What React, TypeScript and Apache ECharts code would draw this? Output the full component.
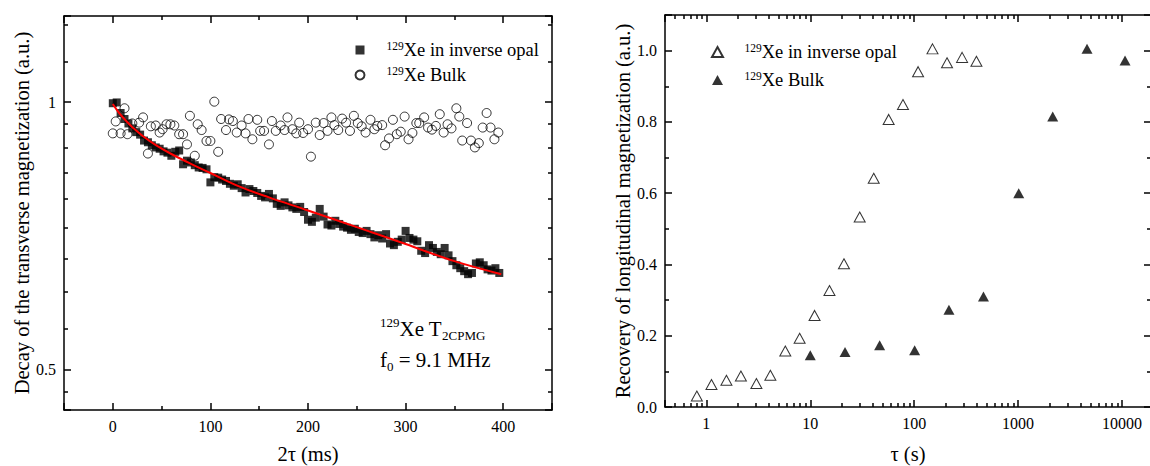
import React, { useEffect, useRef } from "react";
import * as echarts from "echarts";

// ---- Left panel: transverse decay (2τ in ms) ----
const opalT2X = [0, 4, 8, 12, 16, 20, 24, 28, 32, 36, 40, 44, 48, 52, 56, 60, 64, 68, 72, 76, 80, 84, 88, 92, 96, 100, 104, 108, 112, 116, 120, 124, 128, 132, 136, 140, 144, 148, 152, 156, 160, 164, 168, 172, 176, 180, 184, 188, 192, 196, 200, 204, 208, 212, 216, 220, 224, 228, 232, 236, 240, 244, 248, 252, 256, 260, 264, 268, 272, 276, 280, 284, 288, 292, 296, 300, 304, 308, 312, 316, 320, 324, 328, 332, 336, 340, 344, 348, 352, 356, 360, 364, 368, 372, 376, 380, 384, 388, 392, 396];
const opalT2Y = [0.997, 0.999, 0.972, 0.957, 0.946, 0.934, 0.925, 0.919, 0.905, 0.901, 0.894, 0.889, 0.886, 0.880, 0.877, 0.870, 0.879, 0.882, 0.851, 0.859, 0.855, 0.849, 0.844, 0.843, 0.840, 0.812, 0.823, 0.822, 0.818, 0.815, 0.809, 0.805, 0.808, 0.800, 0.791, 0.798, 0.794, 0.790, 0.784, 0.781, 0.788, 0.779, 0.768, 0.764, 0.771, 0.765, 0.761, 0.758, 0.762, 0.752, 0.737, 0.733, 0.741, 0.758, 0.743, 0.728, 0.726, 0.735, 0.729, 0.724, 0.722, 0.718, 0.720, 0.714, 0.712, 0.716, 0.710, 0.704, 0.708, 0.702, 0.710, 0.693, 0.690, 0.696, 0.700, 0.716, 0.703, 0.700, 0.697, 0.680, 0.676, 0.690, 0.685, 0.678, 0.674, 0.685, 0.672, 0.662, 0.655, 0.650, 0.645, 0.640, 0.642, 0.658, 0.660, 0.655, 0.648, 0.646, 0.650, 0.642];

const bulkT2X = [0, 3, 8, 12, 15, 20, 27, 31, 36, 39, 44, 48, 51, 55, 59, 63, 68, 72, 76, 79, 84, 87, 91, 96, 100, 104, 108, 111, 116, 119, 123, 127, 132, 136, 139, 143, 148, 151, 155, 160, 163, 167, 172, 176, 179, 184, 188, 191, 195, 200, 203, 208, 212, 216, 220, 224, 227, 231, 235, 239, 243, 247, 251, 255, 259, 264, 268, 271, 276, 279, 283, 287, 291, 295, 299, 303, 307, 311, 314, 319, 323, 327, 331, 335, 339, 343, 347, 352, 355, 358, 363, 367, 371, 375, 379, 383, 387, 391, 395];
const bulkT2Y = [0.922, 0.951, 0.922, 0.984, 0.920, 0.946, 0.948, 0.961, 0.875, 0.939, 0.941, 0.924, 0.932, 0.944, 0.944, 0.941, 0.920, 0.920, 0.896, 0.965, 0.870, 0.944, 0.930, 0.904, 0.904, 1.001, 0.879, 0.957, 0.930, 0.956, 0.952, 0.924, 0.941, 0.922, 0.957, 0.908, 0.955, 0.928, 0.928, 0.896, 0.952, 0.928, 0.941, 0.930, 0.961, 0.932, 0.922, 0.948, 0.923, 0.932, 0.868, 0.948, 0.918, 0.947, 0.928, 0.961, 0.942, 0.930, 0.958, 0.948, 0.928, 0.965, 0.947, 0.939, 0.924, 0.955, 0.932, 0.940, 0.942, 0.894, 0.910, 0.955, 0.920, 0.926, 0.963, 0.908, 0.923, 0.947, 0.947, 0.961, 0.936, 0.931, 0.940, 0.969, 0.924, 0.944, 0.934, 0.984, 0.963, 0.905, 0.947, 0.905, 0.889, 0.899, 0.936, 0.972, 0.936, 0.908, 0.924];

const fitX = [0, 5, 10, 15, 20, 30, 45, 60, 80, 100, 130, 160, 200, 250, 300, 350, 398];
const fitY = [0.995, 0.977, 0.962, 0.949, 0.937, 0.917, 0.893, 0.874, 0.852, 0.832, 0.803, 0.781, 0.755, 0.723, 0.692, 0.662, 0.640];

// ---- Right panel: longitudinal recovery (τ in s) ----
const opalT1X = [0.81, 1.12, 1.56, 2.15, 3.03, 4.13, 5.75, 7.9, 11.0, 15.3, 21.1, 29.9, 40.8, 56.8, 78, 109, 150, 207, 289, 397];
const opalT1Y = [0.031, 0.063, 0.075, 0.087, 0.066, 0.089, 0.157, 0.193, 0.257, 0.327, 0.402, 0.533, 0.642, 0.807, 0.849, 0.941, 1.005, 0.966, 0.981, 0.970];
const bulkT1X = [10, 21.6, 46.5, 101, 216, 464, 1014, 2153, 4604, 10690];
const bulkT1Y = [0.145, 0.154, 0.173, 0.159, 0.273, 0.310, 0.600, 0.815, 1.005, 0.972];

const legendLabels: Record<string, string> = {
  opalT2: "{gap| }{sup|129}Xe in inverse opal",
  bulkT2: "{gap| }{sup|129}Xe Bulk",
  opalT1: "{gap| }{sup|129}Xe in inverse opal",
  bulkT1: "{gap| }{sup|129}Xe Bulk",
};

const zip = (xs: number[], ys: number[]) => xs.map((x, i) => [x, ys[i]]);

export default function App() {
  const ref = useRef<HTMLDivElement>(null);
  useEffect(() => {
    const chart = echarts.init(ref.current!, null, { renderer: "svg" });
    const font = "'Liberation Serif', 'Times New Roman', serif";
    const black = "#000";
    const lineW = 1.5;
    const axisLine = { show: true, onZero: false, lineStyle: { color: black, width: lineW } };
    const tick = { show: true, inside: true, length: 7, lineStyle: { color: black, width: lineW } };
    const minor = (n: number) => ({ show: true, splitNumber: n, length: 4, lineStyle: { color: black, width: lineW } });
    const label = (extra: any = {}) => ({
      show: true, color: black, fontFamily: font, fontSize: 16, margin: 8,
      showMinLabel: false, showMaxLabel: false, ...extra,
    });
    const noLabel = { show: false };
    const nameStyle = { color: black, fontFamily: font, fontSize: 20.5 };
    const transparent = "rgba(0,0,0,0)";
    const transparentItem = { color: transparent, borderColor: black, borderWidth: 1 };
    const richText = (gap: number) => ({
      gap: { width: gap, fontSize: 10 },
      sup: { fontSize: 11.5, verticalAlign: "top", lineHeight: 12, fontFamily: font, color: black },
    });

    const option: any = {
      animation: false,
      backgroundColor: "#fff",
      grid: [
        { left: 64, top: 16, width: 488, height: 394, outerBoundsMode: "none", containLabel: false },
        { left: 665, top: 15, width: 486, height: 392, outerBoundsMode: "none", containLabel: false },
      ],
      xAxis: [
        {
          gridIndex: 0, type: "value", min: -50, max: 450, position: "bottom",
          axisLine, axisTick: tick, minorTick: minor(2), axisLabel: label(),
          splitLine: { show: false }, minorSplitLine: { show: false },
          name: "2τ (ms)", nameLocation: "middle", nameGap: 33, nameTextStyle: nameStyle,
        },
        {
          gridIndex: 0, type: "value", min: -50, max: 450, position: "top",
          axisLine, axisTick: tick, minorTick: minor(2), axisLabel: noLabel,
          splitLine: { show: false },
        },
        {
          gridIndex: 1, type: "log", logBase: 10, min: 0.4, max: 19000, position: "bottom",
          axisLine, axisTick: tick, minorTick: minor(9),
          axisLabel: label({ formatter: (v: number) => String(Math.round(v)) }),
          splitLine: { show: false }, minorSplitLine: { show: false },
          name: "τ (s)", nameLocation: "middle", nameGap: 36, nameTextStyle: nameStyle,
        },
        {
          gridIndex: 1, type: "log", logBase: 10, min: 0.4, max: 19000, position: "top",
          axisLine, axisTick: tick, minorTick: minor(9), axisLabel: noLabel,
          splitLine: { show: false },
        },
      ],
      yAxis: [
        {
          gridIndex: 0, type: "log", logBase: 2, min: 0.45, max: 1.25, position: "left",
          axisLine, axisTick: tick, minorTick: minor(9),
          axisLabel: label({ formatter: (v: number) => String(Math.round(v * 100) / 100) }),
          splitLine: { show: false }, minorSplitLine: { show: false },
          name: "Decay of the transverse magnetization (a.u.)", nameLocation: "middle", nameGap: 30,
          nameTextStyle: nameStyle,
        },
        {
          gridIndex: 0, type: "log", logBase: 2, min: 0.45, max: 1.25, position: "right",
          axisLine, axisTick: tick, minorTick: minor(9), axisLabel: noLabel,
          splitLine: { show: false },
        },
        {
          gridIndex: 1, type: "value", min: 0, max: 1.1, interval: 0.2, position: "left",
          axisLine, axisTick: tick, minorTick: minor(2),
          axisLabel: label({ formatter: (v: number) => v.toFixed(1), showMinLabel: true }),
          splitLine: { show: false }, minorSplitLine: { show: false },
          name: "Recovery of longitudinal magnetization (a.u.)", nameLocation: "middle", nameGap: 32,
          nameTextStyle: nameStyle,
        },
        {
          gridIndex: 1, type: "value", min: 0, max: 1.1, interval: 0.2, position: "right",
          axisLine, axisTick: tick, minorTick: minor(2), axisLabel: noLabel,
          splitLine: { show: false },
        },
      ],
      legend: [
        {
          left: 354.5, top: 40, padding: 0, orient: "vertical", itemWidth: 9, itemHeight: 9, itemGap: 5,
          selectedMode: false,
          data: [{ name: "opalT2", icon: "rect" }, { name: "bulkT2", icon: "circle" }],
          formatter: (n: string) => legendLabels[n],
          textStyle: { fontFamily: font, fontSize: 18.5, color: black, lineHeight: 20, rich: richText(17) },
        },
        {
          left: 711, top: 42, padding: 0, orient: "vertical", itemWidth: 11, itemHeight: 10, itemGap: 8,
          selectedMode: false,
          data: [{ name: "opalT1", icon: "triangle" }, { name: "bulkT1", icon: "triangle" }],
          formatter: (n: string) => legendLabels[n],
          textStyle: { fontFamily: font, fontSize: 18.5, color: black, lineHeight: 20, rich: richText(16.5) },
        },
      ],
      series: [
        {
          name: "bulkT2", type: "scatter", xAxisIndex: 0, yAxisIndex: 0, symbol: "circle", symbolSize: 9,
          itemStyle: transparentItem, data: zip(bulkT2X, bulkT2Y), z: 2,
        },
        {
          name: "opalT2", type: "scatter", xAxisIndex: 0, yAxisIndex: 0, symbol: "rect", symbolSize: 8,
          itemStyle: { color: black }, data: zip(opalT2X, opalT2Y), z: 3,
        },
        {
          name: "fit", type: "line", xAxisIndex: 0, yAxisIndex: 0, smooth: 0.4, showSymbol: false, symbol: "none",
          lineStyle: { color: "#ff0000", width: 2 }, data: zip(fitX, fitY), z: 4,
        },
        {
          name: "opalT1", type: "scatter", xAxisIndex: 2, yAxisIndex: 2, symbol: "triangle", symbolSize: [11, 10],
          itemStyle: transparentItem, data: zip(opalT1X, opalT1Y), z: 3,
        },
        {
          name: "bulkT1", type: "scatter", xAxisIndex: 2, yAxisIndex: 2, symbol: "triangle", symbolSize: [11, 10],
          itemStyle: { color: black }, data: zip(bulkT1X, bulkT1Y), z: 3,
        },
      ],
      graphic: [
        {
          type: "text", left: 380, top: 316,
          style: {
            text: "{sup|129}Xe T{sub|2CPMG}", fontFamily: font, fontSize: 21, lineHeight: 26, fill: black,
            rich: {
              sup: { fontSize: 13, verticalAlign: "top", lineHeight: 13, fontFamily: font, fill: black },
              sub: { fontSize: 13, verticalAlign: "bottom", lineHeight: 10, fontFamily: font, fill: black },
            },
          },
        },
        {
          type: "text", left: 380, top: 347,
          style: {
            text: "f{sub|0} = 9.1 MHz", fontFamily: font, fontSize: 21, lineHeight: 26, fill: black,
            rich: {
              sub: { fontSize: 13, verticalAlign: "bottom", lineHeight: 10, fontFamily: font, fill: black },
            },
          },
        },
      ],
    };
    chart.setOption(option);
    return () => chart.dispose();
  }, []);
  return (
    <div
      ref={ref}
      style={{ position: "fixed", left: 0, top: 0, width: 1150, height: 466, background: "#fff" }}
    />
  );
}
